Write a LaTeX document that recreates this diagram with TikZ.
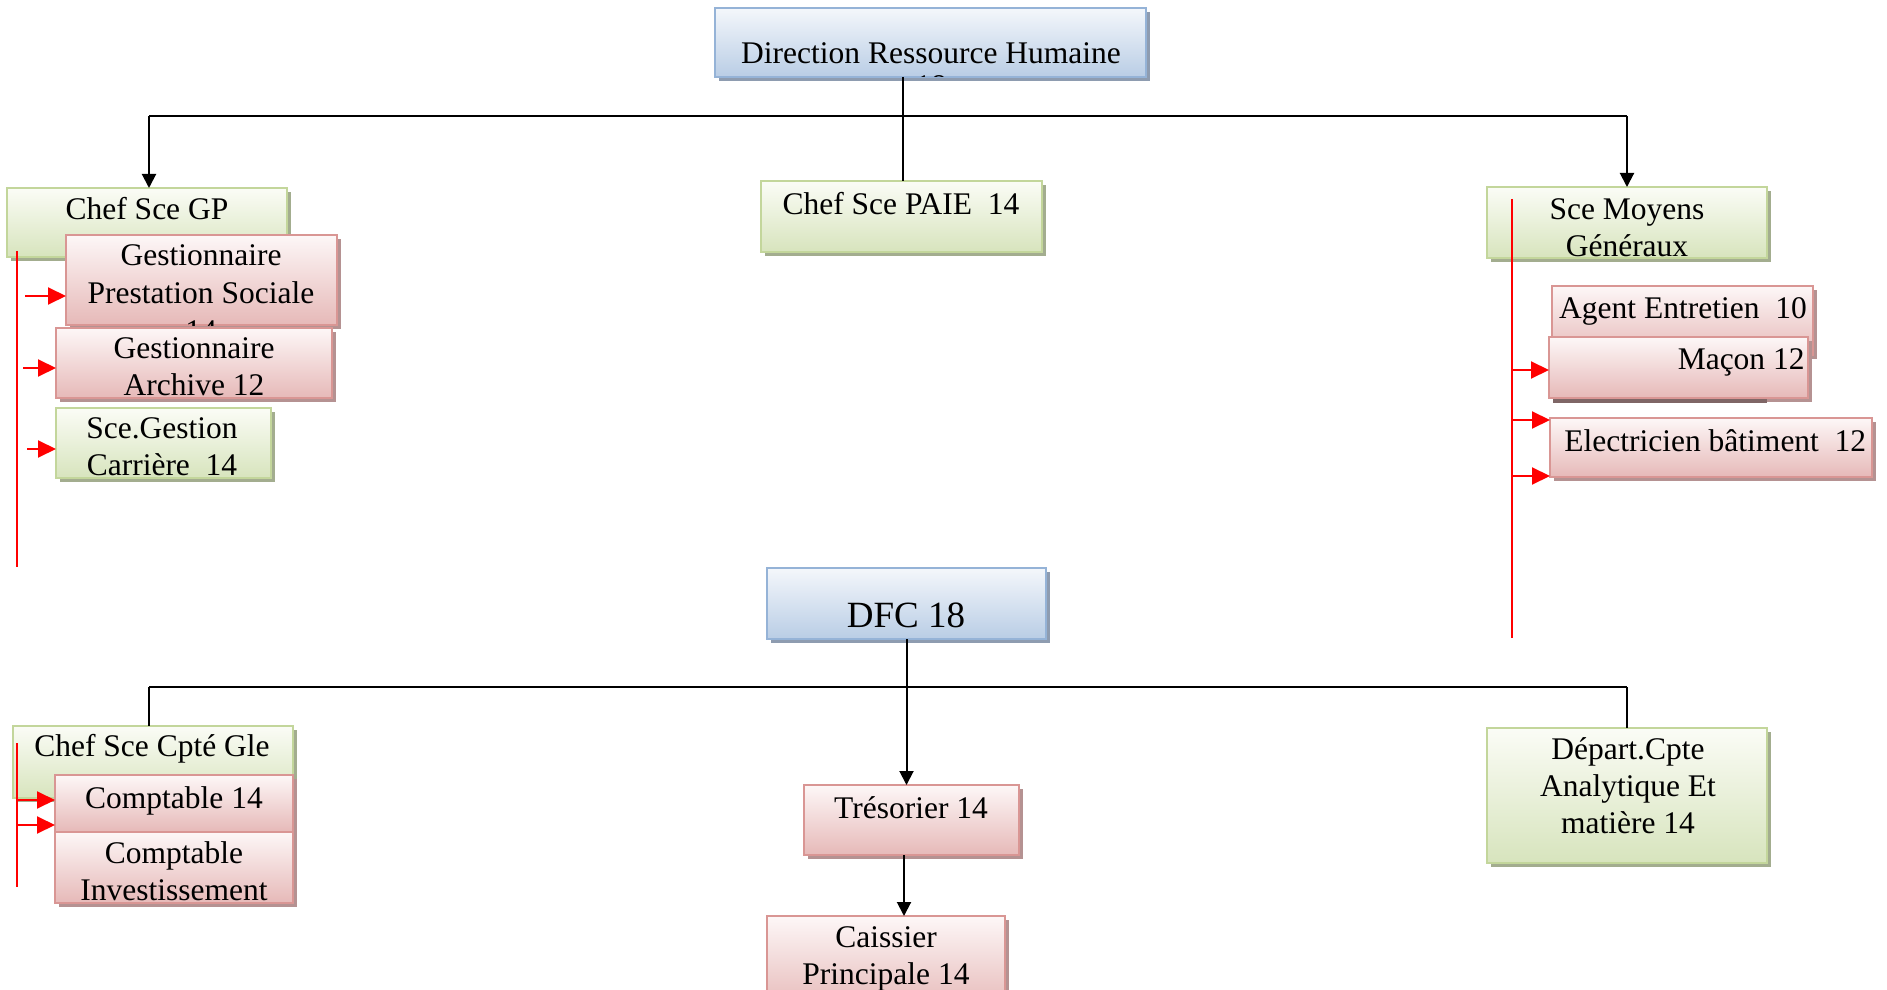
\documentclass[tikz,border=0pt]{standalone}
\usepackage{fontspec}
\setmainfont{Liberation Serif}
\usetikzlibrary{arrows.meta}

% box palettes: gradient top, gradient bottom, outline, drop shadow
\definecolor{grnTop}{HTML}{FBFCF6}
\definecolor{grnBot}{HTML}{D7E4BD}
\definecolor{grnLine}{HTML}{C3D69B}
\definecolor{grnShadow}{HTML}{A3AD8F}
\definecolor{pnkTop}{HTML}{FDF7F7}
\definecolor{pnkBot}{HTML}{E6B9B8}
\definecolor{pnkLine}{HTML}{D99694}
\definecolor{pnkShadow}{HTML}{B59292}
\definecolor{bluTop}{HTML}{F4F7FB}
\definecolor{bluBot}{HTML}{B9CDE5}
\definecolor{bluLine}{HTML}{95B3D7}
\definecolor{bluShadow}{HTML}{8E9CB0}

\tikzset{
  boxbase/.style={rectangle, inner sep=0pt, outer sep=0pt, line width=1.1pt},
  grnbox/.style={boxbase, draw=grnLine, top color=grnTop, bottom color=grnBot},
  pnkbox/.style={boxbase, draw=pnkLine, top color=pnkTop, bottom color=pnkBot},
  blubox/.style={boxbase, draw=bluLine, top color=bluTop, bottom color=bluBot},
  lbl/.style={inner sep=0pt, anchor=base, yshift=-0.75pt, font=\fontsize{15.75pt}{18.5pt}\selectfont},
  link/.style={line width=1pt, black},
  linkarrow/.style={link, -{Triangle[length=7pt,width=7pt]}},
  redlink/.style={line width=1pt, red},
  redarrow/.style={redlink, -{Triangle[length=9pt,width=8.5pt]}},
}

% \orgbox{name}{palette}{left}{top}{right}{bottom}
\newcommand{\orgbox}[6]{%
  \fill[#2Shadow] ({#3+4},{#4+4}) rectangle ({#5+4},{#6+4});
  \node[#2box, minimum width={(#5-#3)*0.5pt}, minimum height={(#6-#4)*0.5pt}]
    (#1) at ({(#3+#5)/2},{(#4+#6)/2}) {};
}
% centred lines, baseline on the first one
\newcommand{\mlines}[1]{\begin{tabular}[t]{@{}c@{}}#1\end{tabular}}

\begin{document}
\begin{tikzpicture}[x=0.5pt,y=-0.5pt]
\useasboundingbox (0,0) rectangle (1887,990);
\clip (0,0) rectangle (1887,990);

% ---------- Direction Ressource Humaine branch ----------
\orgbox{drh}{blu}{715}{8}{1146}{77}
\begin{scope}
  \clip (drh.south west) rectangle (drh.north east);
  \node[lbl, font=\fontsize{15.75pt}{16.5pt}\selectfont] (drh-t) at (931,62)
    {\mlines{Direction Ressource Humaine\\18}};
\end{scope}

\orgbox{gp}{grn}{7}{188}{287}{257}
\node[lbl] (gp-t) at (147,218) {Chef Sce GP};

\orgbox{gps}{pnk}{66}{235}{337}{325}
\begin{scope}
  \clip (gps.south west) rectangle (gps.north east);
  \node[lbl, font=\fontsize{15.75pt}{19pt}\selectfont] (gps-t) at (201,264)
    {\mlines{Gestionnaire\\Prestation Sociale\\14}};
\end{scope}

\orgbox{arc}{pnk}{56}{328}{332}{398}
\node[lbl] (arc-t) at (194,357) {\mlines{Gestionnaire\\Archive 12}};

\orgbox{car}{grn}{56}{408}{271}{478}
\node[lbl] (car-t) at (162,437) {\mlines{Sce.Gestion\\Carrière\ \ 14}};

\orgbox{paie}{grn}{761}{181}{1042}{252}
\node[lbl] (paie-t) at (901,213) {Chef Sce PAIE\ \ 14};

\orgbox{smg}{grn}{1487}{187}{1767}{258}
\node[lbl] (smg-t) at (1627,218) {\mlines{Sce Moyens\\Généraux}};

\orgbox{age}{pnk}{1552}{286}{1813}{355}
\node[lbl] (age-t) at (1683,317) {Agent Entretien\ \ 10};

\orgbox{mac}{pnk}{1549}{337}{1808}{398}
\fill[pnkShadow!70!black] (1553,399) rectangle (1767,403);
\node[lbl, anchor=base east] (mac-t) at (1805,368) {Maçon 12};

\orgbox{ele}{pnk}{1550}{418}{1872}{477}
\node[lbl, anchor=base west] (ele-t) at (1564,450) {Electricien bâtiment\ \ 12};

% ---------- DFC branch ----------
\orgbox{dfc}{blu}{767}{568}{1046}{639}
\node[lbl, font=\fontsize{18.5pt}{22pt}\selectfont] (dfc-t) at (906,626) {DFC 18};

\orgbox{cg}{grn}{13}{726}{293}{798}
\begin{scope}
  \clip (cg.south west) rectangle (cg.north east);
  \node[lbl, font=\fontsize{15.75pt}{19.5pt}\selectfont] (cg-t) at (152,755)
    {\mlines{Chef Sce Cpté Gle\\14}};
\end{scope}

\orgbox{c14}{pnk}{55}{775}{293}{832}
\node[lbl] (c14-t) at (174,807) {Comptable 14};

\orgbox{cinv}{pnk}{55}{832}{293}{903}
\node[lbl, font=\fontsize{15.75pt}{18.5pt}\selectfont] (cinv-t) at (174,862)
  {\mlines{Comptable\\Investissement}};

\orgbox{tre}{pnk}{804}{785}{1019}{855}
\node[lbl] (tre-t) at (911,817) {Trésorier 14};

\orgbox{cai}{pnk}{767}{916}{1005}{1010}
\node[lbl, font=\fontsize{15.75pt}{18.5pt}\selectfont] (cai-t) at (886,946)
  {\mlines{Caissier\\Principale 14}};

\orgbox{dep}{grn}{1487}{728}{1767}{863}
\node[lbl, font=\fontsize{15.75pt}{18.5pt}\selectfont] (dep-t) at (1628,758)
  {\mlines{Départ.Cpte\\Analytique Et\\matière 14}};

% ---------- black connectors ----------
\coordinate (hrTop) at (903,116);
\coordinate (hrL) at (149,116);
\coordinate (hrR) at (1627,116);
\coordinate (dfL) at (149,687);
\coordinate (dfR) at (1627,687);

\draw[link] (hrTop |- drh.south) -- (hrTop |- paie.north);
\draw[link] (hrL) -- (hrR);
\draw[linkarrow] (hrL) -- (hrL |- gp.north);
\draw[linkarrow] (hrR) -- (hrR |- smg.north);

\draw[link] (dfL) -- (dfR);
\draw[link] (dfL) -- (dfL |- cg.north);
\draw[link] (dfR) -- (dfR |- dep.north);
\draw[linkarrow] (dfc.south) -- (dfc.south |- tre.north);
\draw[linkarrow] ([xshift=-3.75pt]tre.south) -- ([xshift=-3.75pt]tre.south |- cai.north);

% ---------- red connectors ----------
\coordinate (rl1) at (17,251);
\coordinate (rl2) at (17,567);
\draw[redlink] (rl1) -- (rl2);
\coordinate (ra1) at (25,296);
\coordinate (ra2) at (23,368);
\coordinate (ra3) at (27,449);
\draw[redarrow] (ra1) -- (ra1 -| gps.west);
\draw[redarrow] (ra2) -- (ra2 -| arc.west);
\draw[redarrow] (ra3) -- (ra3 -| car.west);

\coordinate (rr1) at (1512,199);
\coordinate (rr2) at (1512,638);
\draw[redlink] (rr1) -- (rr2);
\coordinate (rb1) at (1512,370);
\coordinate (rb2) at (1512,420);
\coordinate (rb3) at (1512,476);
\draw[redarrow] (rb1) -- (rb1 -| mac.west);
\draw[redarrow] (rb2) -- (rb2 -| ele.west);
\draw[redarrow] (rb3) -- (rb3 -| ele.west);

\coordinate (rc1) at (17,743);
\coordinate (rc2) at (17,887);
\draw[redlink] (rc1) -- (rc2);
\coordinate (rd1) at (17,800);
\coordinate (rd2) at (17,825);
\draw[redarrow] (rd1) -- (rd1 -| c14.west);
\draw[redarrow] (rd2) -- (rd2 -| c14.west);
\end{tikzpicture}
\end{document}
